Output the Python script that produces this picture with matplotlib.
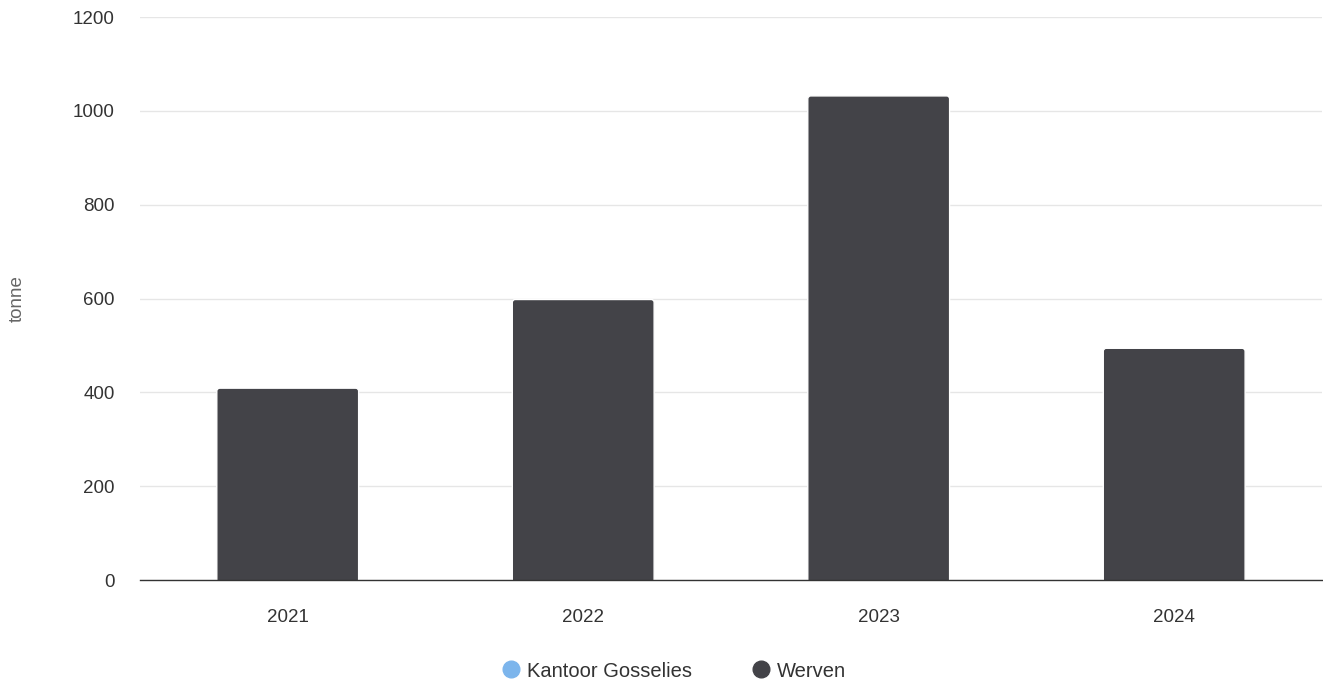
import matplotlib.pyplot as plt
from matplotlib.lines import Line2D
from matplotlib.patches import FancyBboxPatch
import numpy as np

years = ['2021', '2022', '2023', '2024']
kantoor_gosselies = [0, 0, 0, 0]
werven = [409, 598, 1032, 494]

BAR_COLOR = '#434348'
KANTOOR_COLOR = '#7cb5ec'

plt.rcParams['font.family'] = ['Liberation Sans', 'DejaVu Sans']

fig = plt.figure(figsize=(13.23, 6.84), dpi=100)
ax = fig.add_axes([0.1058, 0.152, 0.8934, 0.823])

x = np.arange(len(years))
width = 0.48

ax.set_xlim(-0.5, 3.5)
ax.set_ylim(0, 1200)

# pixel -> data conversion so the corner radius stays round
bbox = ax.get_window_extent()
px_x = 4.0 / bbox.width
px_y = 1200 / bbox.height
radius = 3 * px_x
aspect = px_y / px_x
sink = 10 * px_y  # push the bottom corners below the clipped baseline

ax.bar(x, kantoor_gosselies, width, color=KANTOOR_COLOR, edgecolor='white', linewidth=1, zorder=3)
for xi, base, val in zip(x, kantoor_gosselies, werven):
    ax.add_patch(FancyBboxPatch((xi - width / 2, base - sink), width, val + sink,
                                boxstyle=f'round,pad=0,rounding_size={radius}',
                                mutation_aspect=aspect,
                                facecolor=BAR_COLOR, edgecolor='white', linewidth=1, zorder=3))

ax.set_yticks(range(0, 1201, 200))
ax.set_xticks(x)
ax.set_xticklabels(years)

ax.grid(axis='y', color='#e6e6e6', linewidth=1, zorder=0)
for side in ['top', 'right', 'left']:
    ax.spines[side].set_visible(False)
ax.spines['bottom'].set_color('#333333')
ax.spines['bottom'].set_linewidth(1)
ax.spines['bottom'].set_zorder(4)

ax.tick_params(axis='both', length=0, labelsize=13.5, labelcolor='#333333')
ax.tick_params(axis='x', pad=21)
ax.tick_params(axis='y', pad=18)

fig.text(0.013, 0.564, 'tonne', rotation=90, ha='center', va='center',
         fontsize=13.5, color='#666666')

handles = [
    Line2D([], [], marker='o', linestyle='none', markersize=12,
           markerfacecolor=KANTOOR_COLOR, markeredgecolor=KANTOOR_COLOR),
    Line2D([], [], marker='o', linestyle='none', markersize=12,
           markerfacecolor=BAR_COLOR, markeredgecolor=BAR_COLOR),
]
fig.legend(handles, ['Kantoor Gosselies', 'Werven'], loc='center',
           bbox_to_anchor=(0.509, 0.019), ncol=2, frameon=False,
           fontsize=14.5, labelcolor='#333333', handletextpad=0.3,
           columnspacing=2.9, handlelength=1.0)

fig.savefig('out.png', dpi=100)
